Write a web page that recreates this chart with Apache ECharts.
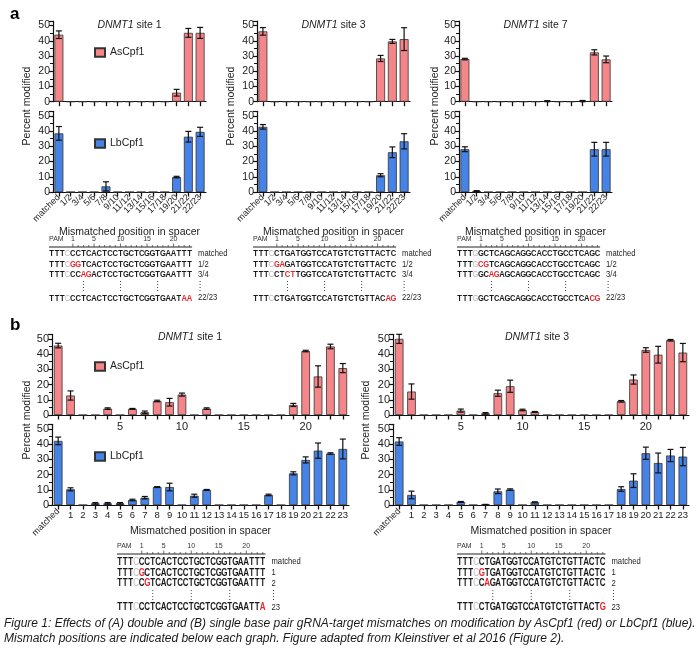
<!DOCTYPE html>
<html><head><meta charset="utf-8">
<script src="https://cdn.jsdelivr.net/npm/echarts@6/dist/echarts.min.js"></script>
<style>html,body{margin:0;padding:0;background:#fff}#c{width:700px;height:659px}</style>
</head><body><div id="c"></div>
<script>
// ---------- data ----------
const catsA = ['matched','1/2','3/4','5/6','7/8','9/10','11/12','13/14','15/16','17/18','19/20','21/22','22/23'];
const catsB = ['matched','1','2','3','4','5','6','7','8','9','10','11','12','13','14','15','16','17','18','19','20','21','22','23'];
const bTopLabels = ['5','10','15','20'];

const a1As    = [44, 0,0,0,0,0,0,0,0,0, 5.9, 45.2, 45.2];
const a1AsErr = [2.5,0,0,0,0,0,0,0,0,0, 2.2, 2.9, 3.6];
const a1Lb    = [38.5,0,0,0,3.7,0,0,0,0,0, 9.8, 36.3, 39.5];
const a1LbErr = [4.5, 0,0,0,3,  0,0,0,0,0, 0.5, 3.5, 3];

const a3As    = [46.2,0,0,0,0,0,0,0,0,0, 28.4, 39.6, 41.1];
const a3AsErr = [2.5, 0,0,0,0,0,0,0,0,0, 2,    1.3,  7.5];
const a3Lb    = [42.8,0,0,0,0,0,0,0,0,0, 11,   26.1, 33.3];
const a3LbErr = [1.5, 0,0,0,0,0,0,0,0,0, 1,    3.5,  5];

const a7As    = [28, 0,0,0,0,0,0,0.3,0,0, 0.4, 32.4, 27.8];
const a7AsErr = [0.5,0,0,0,0,0,0,0.4,0,0, 0.4, 1.7,  2.2];
const a7Lb    = [28.1,0.6,0,0,0,0,0,0,0,0, 0, 28.1, 28.1];
const a7LbErr = [1.6, 0.3,0,0,0,0,0,0,0,0, 0, 4.5,  4.5];

const b1As    = [45.6,12.8,0,0,4.2,0,4,1.8,9.2,8.4,13.4,0,4.2,0,0,0,0,0,0,6.6,42,25.3,45,30.8];
const b1AsErr = [1.5, 3,   0,0,0.5,0,0.3,0.8,0.5,2.5,1,0,0.5,0,0,0,0,0,0,1,0.5,7,1.5,3];
const b1Lb    = [42.1,10.3,0,1.1,1.1,1.1,3.3,4.8,11.8,11.8,0,6.1,9.9,0,0,0,0,6.6,0,20.8,29.6,35.7,33.8,36.8];
const b1LbErr = [2.5, 1,   0,0.5,0.5,0.5,0.5,0.8,0.3,2.5,0,1,0.3,0,0,0,0,0.5,0,1,2,5,0.5,6.5];

const b3As    = [50,15.4,0,0,0,2.9,0,1.1,14.3,18.9,3.3,2,0,0,0,0,0,0,9,23.3,42.7,39.6,49.1,41];
const b3AsErr = [3, 5,   0,0,0,1,  0,0.5,2,  4,   0.5,0.3,0,0,0,0,0,0,0.5,3,1.5,5.5,0.5,6];
const b3Lb    = [41.7,6.6,0,0,0,2,0,0.2,9,10.1,0,1.8,0,0,0,0,0,0,10.5,16,34,27.6,32.5,31.8];
const b3LbErr = [2.5, 2.5,0,0,0,0.3,0,0.2,1.5,0.5,0,0.3,0,0,0,0,0,0,1.5,4.5,4,6.5,4,6];

const titles = ['site 1','site 3','site 7','site 1','site 3'];
const gene = 'DNMT1';
const seriesNames = ['AsCpf1','LbCpf1'];
const xName = 'Mismatched position in spacer';
const yName = 'Percent modified';

const seqA1 = ['TTT[C]CCTCACTCCTGCTCGGTGAATTT','TTT[C]{GG}TCACTCCTGCTCGGTGAATTT','TTT[C]CC{AG}ACTCCTGCTCGGTGAATTT','TTT[C]CCTCACTCCTGCTCGGTGAAT{AA}'];
const seqA3 = ['TTT[C]CTGATGGTCCATGTCTGTTACTC','TTT[C]{GA}GATGGTCCATGTCTGTTACTC','TTT[C]CT{CT}TGGTCCATGTCTGTTACTC','TTT[C]CTGATGGTCCATGTCTGTTAC{AG}'];
const seqA7 = ['TTT[G]GCTCAGCAGGCACCTGCCTCAGC','TTT[G]{CG}TCAGCAGGCACCTGCCTCAGC','TTT[G]GC{AG}AGCAGGCACCTGCCTCAGC','TTT[G]GCTCAGCAGGCACCTGCCTCA{CG}'];
const seqLabA = ['matched','1/2','3/4','22/23'];
const seqB1 = ['TTT[C]CCTCACTCCTGCTCGGTGAATTT','TTT[C]{G}CTCACTCCTGCTCGGTGAATTT','TTT[C]C{G}TCACTCCTGCTCGGTGAATTT','TTT[C]CCTCACTCCTGCTCGGTGAATT{A}'];
const seqB3 = ['TTT[C]CTGATGGTCCATGTCTGTTACTC','TTT[C]{G}TGATGGTCCATGTCTGTTACTC','TTT[C]C{A}GATGGTCCATGTCTGTTACTC','TTT[C]CTGATGGTCCATGTCTGTTACT{G}'];
const seqLabB = ['matched','1','2','23'];
const rulerNums = [1,5,10,15,20];

const caption1 = 'Figure 1: Effects of (A) double and (B) single base pair gRNA-target mismatches on modification by AsCpf1 (red) or LbCpf1 (blue).';
const caption2 = 'Mismatch positions are indicated below each graph. Figure adapted from Kleinstiver et al 2016 (Figure 2).';

// ---------- style / layout ----------
const FONT = '"Liberation Sans", Arial, Helvetica, sans-serif';
const PINK = '#F4868A', BLUE = '#4683E6', INK = '#1a1a1a';
const YMAX = 53;

const charts = [
  {cats:catsA, left:53,  width:153, tops:[21,111.3], h:80.7, as:[a1As,a1AsErr], lb:[a1Lb,a1LbErr], panel:'a'},
  {cats:catsA, left:257, width:153, tops:[21,111.3], h:80.7, as:[a3As,a3AsErr], lb:[a3Lb,a3LbErr], panel:'a'},
  {cats:catsA, left:459, width:153, tops:[21,111.3], h:80.7, as:[a7As,a7AsErr], lb:[a7Lb,a7LbErr], panel:'a'},
  {cats:catsB, left:52,  width:297, tops:[334.3,424.3], h:80.7, as:[b1As,b1AsErr], lb:[b1Lb,b1LbErr], panel:'b'},
  {cats:catsB, left:393, width:296, tops:[334.3,424.3], h:80.7, as:[b3As,b3AsErr], lb:[b3Lb,b3LbErr], panel:'b'}
];

function errRender(params, api){
  const x = api.value(0), m = api.value(1), e = api.value(2);
  if (!(e > 0)) return null;
  const hi = api.coord([x, m + e]);
  const lo = api.coord([x, Math.max(0, m - e)]);
  const w = 3;
  const st = {stroke:'#111', lineWidth:1.2};
  return {type:'group', children:[
    {type:'line', shape:{x1:hi[0], y1:hi[1], x2:lo[0], y2:lo[1]}, style:st},
    {type:'line', shape:{x1:hi[0]-w, y1:hi[1], x2:hi[0]+w, y2:hi[1]}, style:st},
    {type:'line', shape:{x1:lo[0]-w, y1:lo[1], x2:lo[0]+w, y2:lo[1]}, style:st}
  ]};
}

const grid = [], xAxis = [], yAxis = [], series = [];
const axisLineStyle = {color:'#111', width:1.2};
charts.forEach((c, ci) => {
  [0,1].forEach(row => {
    const gi = grid.length;
    grid.push({left:c.left, top:c.tops[row], width:c.width, height:c.h, containLabel:false, outerBoundsMode:'none'});
    const isB = c.panel === 'b';
    let axisLabel;
    if (row === 0) {
      axisLabel = isB
        ? {show:true, interval:(i,v)=>bTopLabels.includes(v), fontSize:11, color:'#222', margin:6}
        : {show:false};
    } else {
      axisLabel = isB
        ? {show:true, interval:0, fontSize:9.5, color:'#222', margin:5, formatter:v => v==='matched' ? '' : v}
        : {show:true, interval:0, rotate:45, fontSize:9, color:'#222', margin:4};
    }
    const xa = {gridIndex:gi, type:'category', data:c.cats,
      axisLine:{show:true, lineStyle:axisLineStyle},
      axisTick:{show:true, alignWithLabel:true, interval:0, length:4.5, lineStyle:{color:'#111', width:1.3}},
      axisLabel, splitLine:{show:false}};
    if (row === 1) {
      Object.assign(xa, {name:xName, nameLocation:'middle', nameGap: isB ? 21 : 18,
        nameTextStyle:{fontSize:10.5, color:'#222'}});
    }
    xAxis.push(xa);
    yAxis.push({gridIndex:gi, type:'value', min:0, max:YMAX, interval:10,
      axisLine:{show:true, lineStyle:axisLineStyle},
      axisTick:{show:true, length:4, lineStyle:{color:'#111', width:1.2}},
      minorTick:{show:true, splitNumber:2, length:3, lineStyle:{color:'#111', width:1}},
      splitLine:{show:false}, minorSplitLine:{show:false},
      axisLabel:{fontSize: isB ? 11 : 10.5, color:'#222', margin:3, showMaxLabel:false}});
    const d = row === 0 ? c.as : c.lb;
    series.push({type:'bar', name:seriesNames[row], xAxisIndex:gi, yAxisIndex:gi, data:d[0],
      barCategoryGap: isB ? '30%' : '24%',
      itemStyle:{color: row===0 ? PINK : BLUE, borderColor:'#333', borderWidth:0.8}, z:2});
    series.push({type:'custom', xAxisIndex:gi, yAxisIndex:gi, silent:true, z:5,
      data:d[0].map((v,k)=>[k, v, d[1][k]]), renderItem:errRender});
  });
});
// overlay axes for the rotated "matched" label in panel b
[7, 9].forEach(gi => {
  xAxis.push({gridIndex:gi, type:'category', data:catsB, position:'bottom',
    axisLine:{show:false}, axisTick:{show:false}, splitLine:{show:false},
    axisLabel:{show:true, interval:0, rotate:45, fontSize:9, color:'#222', margin:5,
      formatter:v => v==='matched' ? v : ''}});
});

// ---------- legends ----------
const legBase = {orient:'horizontal', padding:0, itemWidth:10, itemHeight:8.5, icon:'rect',
  selectedMode:false, textStyle:{fontSize:10.5, color:'#222', fontFamily:FONT}};
const legend = [
  Object.assign({}, legBase, {data:['AsCpf1'], left:94, top:47}),
  Object.assign({}, legBase, {data:['LbCpf1'], left:94, top:138}),
  Object.assign({}, legBase, {data:['AsCpf1'], left:94, top:361}),
  Object.assign({}, legBase, {data:['LbCpf1'], left:94, top:451})
];

// ---------- graphics (text) ----------
const g = [];
function txt(x, y, text, o){
  o = o || {};
  g.push({type:'text', x, y, rotation:o.rot||0, scaleX:o.sx||1, silent:true,
    style:Object.assign({text, fill:o.fill||'#222', fontSize:o.fs||10.5, fontFamily:FONT,
      fontWeight:o.fw||'normal', fontStyle:o.fst||'normal',
      textAlign:o.align||'left', align:o.align||'left',
      textVerticalAlign:'middle', verticalAlign:'middle'}, o.extra||{})});
}
txt(10, 14, 'a', {fs:17, fw:'bold', fill:'#000'});
txt(10, 325, 'b', {fs:17, fw:'bold', fill:'#000'});

const titleCenters = [[129.5,25],[333.5,25],[535.5,25],[190,337],[537,337]];
titleCenters.forEach((p,i) => {
  g.push({type:'text', x:p[0], y:p[1], silent:true, style:{
    text:'{i|' + gene + '} ' + titles[i], fill:'#222', fontSize:10.5, fontFamily:FONT,
    textAlign:'center', align:'center', textVerticalAlign:'middle', verticalAlign:'middle',
    rich:{i:{fontStyle:'italic', fontSize:10.5, fontFamily:FONT, fill:'#222'}}}});
});
[[27,106],[231,106],[435,106],[27,420],[366,420]].forEach(p => {
  txt(p[0], p[1], yName, {rot:Math.PI/2, align:'center', fs:10.5});
});

function parseSeq(s){
  const out = []; let mode = 'b';
  for (const ch of s) {
    if (ch === '[') { mode = 'g'; continue; }
    if (ch === '{') { mode = 'r'; continue; }
    if (ch === ']' || ch === '}') { mode = 'b'; continue; }
    out.push([ch, mode]);
  }
  return out;
}
function seqBlock(x0, cw, L, seqs, labs){
  const end = x0 + 27*cw;
  g.push({type:'line', silent:true, shape:{x1:x0, y1:L.rule, x2:end, y2:L.rule}, style:{stroke:'#222', lineWidth:1}});
  for (let p = 1; p <= 23; p++) {
    const cx = x0 + (3 + p + 0.5)*cw;
    const major = rulerNums.includes(p);
    g.push({type:'line', silent:true, shape:{x1:cx, y1:L.rule, x2:cx, y2:L.rule - (major?3.5:2)}, style:{stroke:'#333', lineWidth:0.7}});
  }
  rulerNums.forEach(p => txt(x0 + (3 + p + 0.5)*cw, L.nums, String(p), {fs:7, align:'center', fill:'#333'}));
  txt(x0, L.rule - 4, 'PAM', {fs:7, fill:'#333', extra:{verticalAlign:'bottom', textVerticalAlign:'bottom'}});
  seqs.forEach((s, r) => {
    const y = L.rows[r];
    parseSeq(s).forEach((c, i) => {
      g.push({type:'text', silent:true, x:x0 + (i + 0.5)*cw, y, scaleX:0.8, style:{
        text:c[0], fontSize:L.fs, fontFamily:FONT, fontWeight: c[1]==='g' ? 'normal' : 'bold',
        fill: c[1]==='g' ? '#b8b8b8' : (c[1]==='r' ? '#E8262C' : INK),
        textAlign:'center', align:'center', textVerticalAlign:'middle', verticalAlign:'middle'}});
    });
    txt(end + 6, y, labs[r], {fs:8.5, sx:0.9, fill:'#222'});
  });
  const dotXs = [3, 10, 17].map(p => x0 + (3 + p + 0.5)*cw).concat([end + 8]);
  dotXs.forEach(dx => g.push({type:'line', silent:true, shape:{x1:dx, y1:L.dot[0], x2:dx, y2:L.dot[1]},
    style:{stroke:'#444', lineWidth:1, lineDash:[1,2]}}));
}
const LA = {nums:239, rule:247, rows:[253.5,264.5,274.5,298], dot:[281,291], fs:9.5};
const LB = {nums:546, rule:554, rows:[562,573,583.5,607.5], dot:[590,600], fs:10};
seqBlock(49, 5.3, LA, seqA1, seqLabA);
seqBlock(253, 5.3, LA, seqA3, seqLabA);
seqBlock(457, 5.3, LA, seqA7, seqLabA);
seqBlock(117, 5.5, LB, seqB1, seqLabB);
seqBlock(457, 5.5, LB, seqB3, seqLabB);

txt(4, 624, caption1, {fs:12, fst:'italic', fill:'#1a1a1a'});
txt(4, 639, caption2, {fs:12, fst:'italic', fill:'#1a1a1a'});

const chart = echarts.init(document.getElementById('c'), null, {renderer:'canvas'});
chart.setOption({
  animation:false,
  backgroundColor:'#fff',
  textStyle:{fontFamily:FONT},
  grid, xAxis, yAxis, series, legend,
  graphic:{elements:g}
});
</script></body></html>
